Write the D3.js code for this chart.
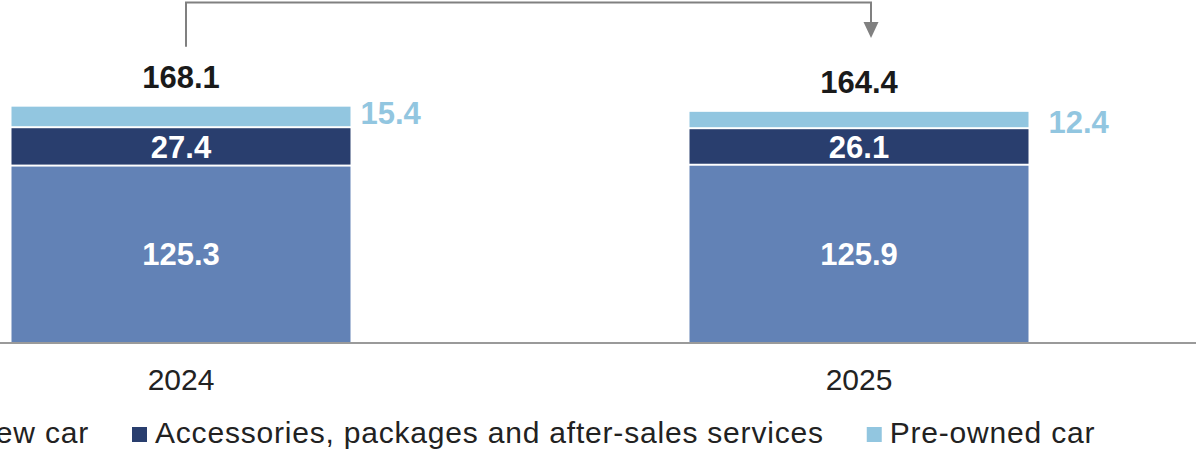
<!DOCTYPE html>
<html>
<head>
<meta charset="utf-8">
<script src="https://cdn.jsdelivr.net/npm/d3@7"></script>
<style>
  html, body { margin: 0; padding: 0; background: #ffffff; }
  svg { display: block; font-family: "Liberation Sans", Arial, sans-serif; }
</style>
</head>
<body>
<svg id="chart" width="1196" height="456"></svg>
<script>
// Revenue mix by year (stacked from the bottom up)
const years = ["2024", "2025"];
const seriesNames = ["New car", "Accessories, packages and after-sales services", "Pre-owned car"];
const newCar = [125.3, 125.9];
const accessories = [27.4, 26.1];
const preOwned = [15.4, 12.4];
const totals = [168.1, 164.4];

const colors = ["#6282b6", "#293e6e", "#92c6e0"];

const W = 1196, H = 456;
const svg = d3.select("#chart");

const rows = years.map((y, i) => ({
  year: y,
  "New car": newCar[i],
  "Accessories, packages and after-sales services": accessories[i],
  "Pre-owned car": preOwned[i],
  total: totals[i]
}));

const stack = d3.stack().keys(seriesNames);
const layers = stack(rows);

const x = d3.scaleBand()
  .domain(years)
  .range([-158, 1198])
  .paddingInner(0.5)
  .paddingOuter(0.25);

const y = d3.scaleLinear()
  .domain([0, 250])
  .range([342, -8]);

const boldSize = 31;

// stacked segments, separated by a thin white gap
const gap = 2;
layers.forEach((layer, li) => {
  svg.append("g")
    .selectAll("rect")
    .data(layer)
    .join("rect")
    .attr("x", d => x(d.data.year))
    .attr("width", x.bandwidth())
    .attr("y", d => y(d[1]))
    .attr("height", d => y(d[0]) - y(d[1]) - (li > 0 ? gap : 0))
    .attr("fill", colors[li]);
});

// baseline
svg.append("line")
  .attr("x1", 0).attr("x2", W)
  .attr("y1", y(0) + 1).attr("y2", y(0) + 1)
  .attr("stroke", "#9a9a9a")
  .attr("stroke-width", 2);

// value labels inside the two lower segments
[0, 1].forEach(li => {
  svg.append("g")
    .selectAll("text")
    .data(layers[li])
    .join("text")
    .attr("x", d => x(d.data.year) + x.bandwidth() / 2)
    .attr("y", d => (y(d[0]) + y(d[1])) / 2 - (li > 0 ? gap / 2 : 0))
    .attr("dy", "0.36em")
    .attr("text-anchor", "middle")
    .attr("fill", "#ffffff")
    .attr("font-weight", "bold")
    .attr("font-size", boldSize)
    .text(d => d.data[seriesNames[li]].toFixed(1));
});

// pre-owned values beside the bars
const sideDx = [10, 20];
const sideDy = [-5, 1];
svg.append("g")
  .selectAll("text")
  .data(layers[2])
  .join("text")
  .attr("x", (d, i) => x(d.data.year) + x.bandwidth() + sideDx[i])
  .attr("y", (d, i) => (y(d[0]) + y(d[1])) / 2 + sideDy[i])
  .attr("dy", "0.36em")
  .attr("fill", colors[2])
  .attr("font-weight", "bold")
  .attr("font-size", boldSize)
  .text(d => d.data["Pre-owned car"].toFixed(1));

// totals above the bars
svg.append("g")
  .selectAll("text")
  .data(rows)
  .join("text")
  .attr("x", d => x(d.year) + x.bandwidth() / 2)
  .attr("y", d => y(d.total) - 19)
  .attr("text-anchor", "middle")
  .attr("fill", "#1a1a1a")
  .attr("font-weight", "bold")
  .attr("font-size", boldSize)
  .text(d => d.total.toFixed(1));

// category axis labels
svg.append("g")
  .selectAll("text")
  .data(years)
  .join("text")
  .attr("x", d => x(d) + x.bandwidth() / 2)
  .attr("y", 390)
  .attr("text-anchor", "middle")
  .attr("fill", "#222222")
  .attr("font-size", 30)
  .text(d => d);

// year-over-year connector
const xa = x(years[0]) + x.bandwidth() / 2 + 5;
const xb = x(years[1]) + x.bandwidth() / 2 + 12;
const topY = 2.5;
svg.append("path")
  .attr("d", `M${xa},${y(totals[0]) - 60}V${topY}H${xb}V${24}`)
  .attr("fill", "none")
  .attr("stroke", "#808080")
  .attr("stroke-width", 2);
svg.append("path")
  .attr("d", `M${xb - 7.5},22L${xb + 7.5},22L${xb},38Z`)
  .attr("fill", "#808080");

// legend
const legend = svg.append("g").attr("font-size", 30).attr("fill", "#222222");
const items = legend.selectAll("g")
  .data(seriesNames)
  .join("g");
items.append("rect")
  .attr("width", 15).attr("height", 15)
  .attr("y", 427)
  .attr("fill", (d, i) => colors[i]);
items.append("text")
  .attr("x", 23)
  .attr("y", 443)
  .attr("letter-spacing", 0.8)
  .text(d => d);

const widths = [];
items.each(function () {
  widths.push(d3.select(this).select("text").node().getComputedTextLength());
});
const itemGap = 43;
const itemW = widths.map(w => 23 + w);
let cx = 132 - itemW[0] - itemGap;
items.attr("transform", (d, i) => {
  const t = `translate(${cx},0)`;
  cx += itemW[i] + itemGap;
  return t;
});
</script>
</body>
</html>
